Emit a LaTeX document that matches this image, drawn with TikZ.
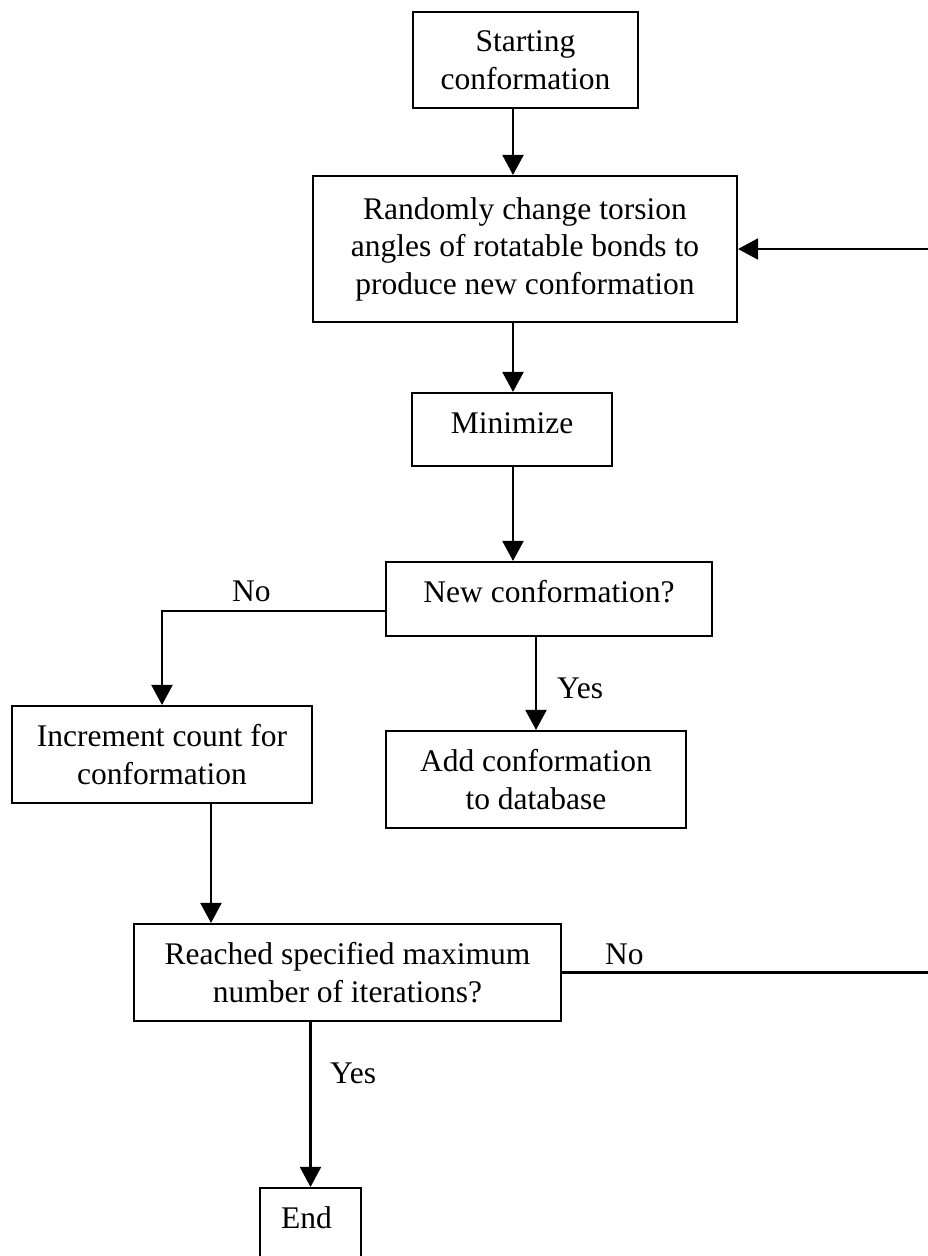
\documentclass[tikz,border=0pt]{standalone}
\usepackage{fontspec}
\setmainfont{Liberation Serif}
\usetikzlibrary{arrows.meta}
\begin{document}
\begin{tikzpicture}[x=1pt,y=-1pt,
  box/.style={draw=black, line width=2.1pt, inner sep=0pt, align=center,
    font=\fontsize{31.5}{37.5}\selectfont},
  onebox/.style={box, text height=21pt, text depth=14pt},
  lbl/.style={inner sep=0pt, anchor=base west, font=\fontsize{31.5}{37.5}\selectfont},
  arr/.style={draw=black, line width=2.1pt, -{Triangle[length=20pt,width=21pt]}}]
\useasboundingbox (0,0) rectangle (928,1256);
\fill[white] (0,0) rectangle (928,1256);
\clip (0,0) rectangle (928,1256);

\node[box, minimum width=225pt, minimum height=96pt] (start) at (525.5,60) {Starting\\conformation};
\node[box, minimum width=424pt, minimum height=146pt] (random) at (525,249) {Randomly change torsion\\angles of rotatable bonds to\\produce new conformation};
\node[onebox, minimum width=200pt, minimum height=73pt] (mini) at (512,429.5) {Minimize};
\node[onebox, minimum width=326pt, minimum height=74pt] (newc) at (549,599) {New conformation?};
\node[box, minimum width=300pt, minimum height=97pt] (inc) at (162,754.5) {Increment count for\\conformation};
\node[box, minimum width=300pt, minimum height=97pt] (add) at (536,779.5) {Add conformation\\to database};
\node[box, minimum width=427pt, minimum height=97pt] (reach) at (347.5,972.5) {Reached specified maximum\\number of iterations?};
\node[onebox, minimum width=101pt, minimum height=73pt] (fin) at (310.5,1224.5) {End\hspace*{8pt}};

\node[lbl] (no1) at (232,601) {No};
\node[lbl] (yes1) at (557,698) {Yes};
\node[lbl] (no2) at (605,964) {No};
\node[lbl] (yes2) at (330,1083) {Yes};

\coordinate (spine) at (513,0);
\coordinate (noy) at (0,611);
\coordinate (rx) at (211,0);
\coordinate (edge) at (940,0);

\draw[arr] (start.south -| spine) -- (random.north -| spine);
\draw[arr] (random.south -| spine) -- (mini.north -| spine);
\draw[arr] (mini.south -| spine) -- (newc.north -| spine);
\draw[arr] (newc.west |- noy) -| (inc.north);
\draw[arr] (newc.south -| add.north) -- (add.north);
\draw[arr] (inc.south -| rx) -- (reach.north -| rx);
\draw[arr] (reach.south -| fin.north) -- (fin.north);
\draw[arr] (reach.east) -- (reach.east -| edge) |- (random.east);
\end{tikzpicture}
\end{document}
